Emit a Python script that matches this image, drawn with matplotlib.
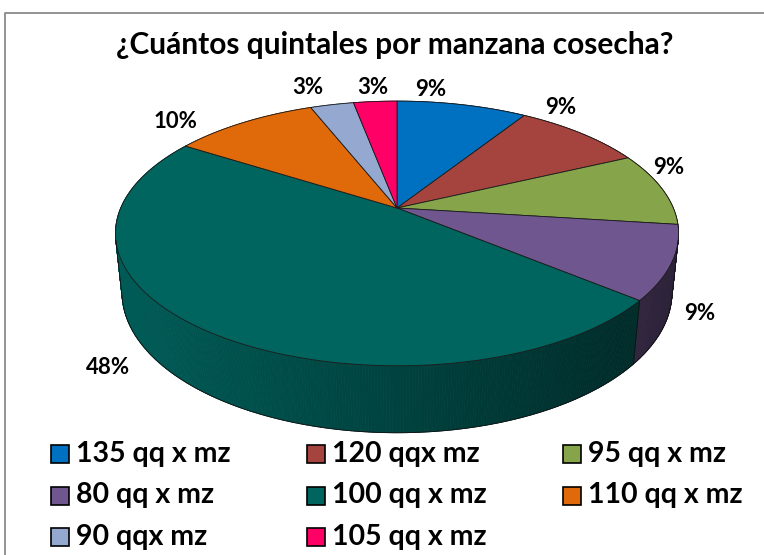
import numpy as np
import matplotlib.pyplot as plt
from matplotlib.patches import Polygon, Rectangle
from matplotlib.collections import PolyCollection
from matplotlib.colors import to_rgb

title = '¿Cuántos quintales por manzana cosecha?'
categories = ['135 qq x mz', '120 qqx mz', '95 qq x mz', '80 qq x mz',
              '100 qq x mz', '110 qq x mz', '90 qqx mz', '105 qq x mz']
shares = [9, 9, 9, 9, 48, 10, 3, 3]
colors = ['#0070C0', '#A5443F', '#86A44A', '#6F568E',
          '#00645F', '#E0690A', '#94A8D0', '#FF0066']

# where the percentage labels sit (pixels)
label_xy = [(431, 90), (561, 107), (669, 168), (700, 313),
            (108, 368), (175, 122), (308, 88), (373, 88)]

plt.rcParams['font.family'] = ['Lato', 'DejaVu Sans']

W, H = 764, 555
fig = plt.figure(figsize=(W / 100, H / 100), dpi=100)
ax = fig.add_axes([0, 0, 1, 1])
ax.set_xlim(0, W)
ax.set_ylim(H, 0)
ax.axis('off')

# perspective camera for the 3-D pie
cx, cy = 397, 208
sx_scale, sy_scale = 1282, 1307
elev = np.radians(26.9)
dist = 4.64
depth = 0.236


def proj(t, y=0.0):
    x = np.sin(t)
    z = -np.cos(t)
    yc = y * np.cos(elev) - z * np.sin(elev)
    d = dist - (y * np.sin(elev) + z * np.cos(elev))
    return cx + sx_scale * x / d, cy - sy_scale * yc / d


def shade(col, px):
    f = np.clip(0.92 - 0.52 * (px - 114) / 564, 0.38, 0.95)
    return tuple(c * f for c in to_rgb(col))


vals = np.array(shares, float)
edges = np.concatenate([[0], np.cumsum(vals)]) / vals.sum() * 2 * np.pi

# side wall, far pieces first
polys, fcs, keys = [], [], []
for i in range(len(vals)):
    n = max(int(np.degrees(edges[i + 1] - edges[i]) * 2), 2)
    ts = np.linspace(edges[i], edges[i + 1], n)
    for a, b in zip(ts[:-1], ts[1:]):
        xa, ya = proj(a)
        xb, yb = proj(b)
        xa2, ya2 = proj(a, -depth)
        xb2, yb2 = proj(b, -depth)
        polys.append([(xa, ya), (xb, yb), (xb2, yb2), (xa2, ya2)])
        fcs.append(shade(colors[i], (xa + xb) / 2))
        keys.append(-np.cos((a + b) / 2))
order = np.argsort(keys)
side = PolyCollection([polys[j] for j in order],
                      facecolors=[fcs[j] for j in order],
                      edgecolors=[fcs[j] for j in order], linewidths=0.6)
ax.add_collection(side)

# outline of the visible side
lo = np.arccos(-1 / (dist * np.cos(elev)))
hi = 2 * np.pi - lo
ts = np.linspace(lo, hi, 300)
bx, by = proj(ts, -depth)
ax.plot(bx, by, color='#111111', lw=0.6)
for e in [lo, hi] + [e for e in edges if lo < e < hi]:
    x1, y1 = proj(e)
    x2, y2 = proj(e, -depth)
    ax.plot([x1, x2], [y1, y2], color='#111111', lw=0.6)

# top faces
for i in range(len(vals)):
    ts = np.linspace(edges[i], edges[i + 1], 120)
    px, py = proj(ts)
    pts = np.column_stack([np.r_[cx, px], np.r_[cy, py]])
    ax.add_patch(Polygon(pts, closed=True, facecolor=colors[i],
                         edgecolor='#1a1a1a', lw=0.6, joinstyle='round'))

for (x, y), v in zip(label_xy, shares):
    ax.text(x, y, f'{v}%', ha='center', va='center',
            fontsize=16, fontweight='bold')

ax.text(395, 45, title, ha='center', va='center', fontsize=21.5, fontweight='bold')

# legend, three columns
for i, name in enumerate(categories):
    row, col = divmod(i, 3)
    x0 = 51 + col * 256
    y0 = 454 + row * 41.5
    ax.add_patch(Rectangle((x0, y0 - 9), 18, 18, facecolor=colors[i],
                           edgecolor='black', lw=1.2))
    ax.text(x0 + 25, y0, name, ha='left', va='center',
            fontsize=20.5, fontweight='bold')

# chart frame (cut off at right and bottom)
ax.plot([5, 5, W + 5], [H + 5, 13, 13], color='#8a8a8a', lw=1.3)

fig.savefig('out.png', dpi=100)
